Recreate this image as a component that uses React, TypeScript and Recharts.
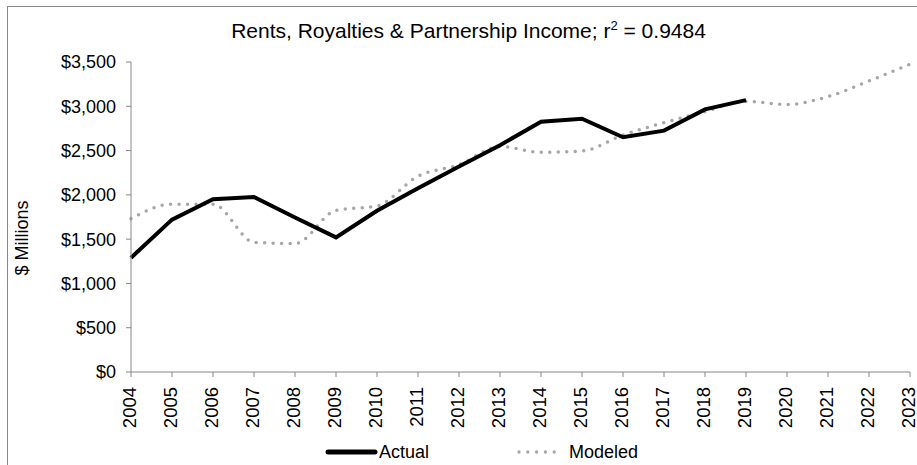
import { Line, LineChart, XAxis, YAxis } from "recharts"

const years = ["2004", "2005", "2006", "2007", "2008", "2009", "2010", "2011", "2012", "2013",
    "2014", "2015", "2016", "2017", "2018", "2019", "2020", "2021", "2022", "2023"]
const actual = [1290, 1720, 1950, 1975, 1745, 1520, 1820, 2075, 2320, 2560,
    2825, 2860, 2650, 2725, 2965, 3070]
const modeled = [1730, 1895, 1895, 1465, 1450, 1825, 1875, 2210, 2340, 2545,
    2480, 2495, 2675, 2815, 2940, 3055, 3020, 3110, 3285, 3475]
const yTicks = [0, 500, 1000, 1500, 2000, 2500, 3000, 3500]

const data = years.map((year, i) => ({
    year,
    actual: i < actual.length ? actual[i] : null,
    modeled: modeled[i],
}))

const FONT = "'Liberation Sans', Arial, sans-serif"
const AXIS = "#868686"

const YearTick = (props: any) => {
    const { x, y, payload } = props
    return (
        <text x={x} y={y + 8} transform={`rotate(-90, ${x}, ${y + 8})`} textAnchor="end" dy="0.25em"
            fontSize={18.5} fontFamily={FONT} fill="#000">
            {payload.value}
        </text>
    )
}

export default function App() {
    return (
        <div style={{ position: 'absolute', left: 0, top: 0, width: 917, height: 465, background: '#fff', overflow: 'hidden', fontFamily: FONT }}>
            <div style={{ position: 'absolute', left: 7, top: 6, width: 940, height: 500, borderLeft: '1px solid #888', borderTop: '1px solid #888' }} />
            <div style={{ position: 'absolute', left: 0, top: 19, width: 937, textAlign: 'center', fontSize: 21, lineHeight: '24px', color: '#000' }}>
                Rents, Royalties &amp; Partnership Income; r<sup style={{ fontSize: 13, lineHeight: 0 }}>2</sup> = 0.9484
            </div>
            <div style={{ position: 'absolute', left: 22, top: 238, transform: 'translate(-50%, -50%) rotate(-90deg)', fontSize: 18, whiteSpace: 'nowrap' }}>
                $ Millions
            </div>
            <LineChart width={917} height={465} data={data} margin={{ top: 62, right: 7, bottom: 43, left: 0 }}
                style={{ position: 'absolute', left: 0, top: 0 }}>
                <XAxis dataKey="year" height={50} interval={0} tick={<YearTick />} tickSize={5}
                    axisLine={{ stroke: AXIS }} tickLine={{ stroke: AXIS }} />
                <YAxis width={131} domain={[0, 3500]} ticks={yTicks} interval={0} tickSize={5} tickMargin={10}
                    tickFormatter={(v: number) => `$${v.toLocaleString('en-US')}`}
                    tick={{ fill: '#000', fontSize: 18, fontFamily: FONT }}
                    axisLine={{ stroke: AXIS }} tickLine={{ stroke: AXIS }} />
                <Line dataKey="modeled" type="monotone" stroke="#a6a6a6" strokeWidth={3.5}
                    strokeDasharray="0 8.5" strokeLinecap="round" dot={false} isAnimationActive={false} />
                <Line dataKey="actual" type="linear" stroke="#000" strokeWidth={4}
                    dot={false} isAnimationActive={false} connectNulls={false} />
            </LineChart>
            <svg width={917} height={30} style={{ position: 'absolute', left: 0, top: 437 }}>
                <line x1={328} x2={375} y1={15} y2={15} stroke="#000" strokeWidth={5} strokeLinecap="round" />
                <text x={379} y={15} dy="0.35em" fontSize={18} fontFamily={FONT}>Actual</text>
                <line x1={519} x2={563} y1={15} y2={15} stroke="#a6a6a6" strokeWidth={3.3}
                    strokeDasharray="0 8.8" strokeLinecap="round" />
                <text x={569} y={15} dy="0.35em" fontSize={18} fontFamily={FONT}>Modeled</text>
            </svg>
        </div>
    )
}
